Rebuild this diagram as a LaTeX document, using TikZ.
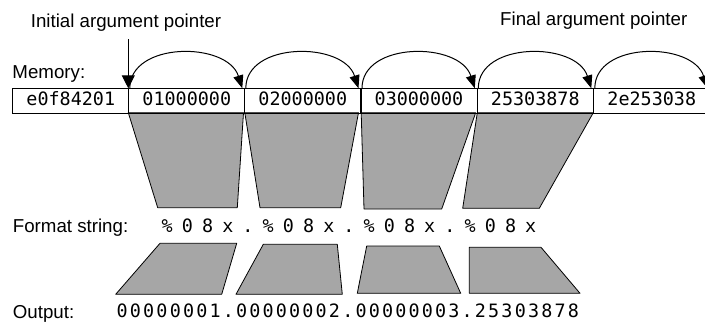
\documentclass[tikz,border=0pt]{standalone}
\usepackage{fontspec}
\setmainfont{Liberation Sans}
\newfontfamily\monofont{DejaVu Sans Mono}
\usetikzlibrary{arrows.meta}
\definecolor{trapgray}{HTML}{A6A6A6}
\ExplSyntaxOn
\NewDocumentCommand\pitched{mm}{\tl_map_inline:nn {#2}{\makebox[#1]{##1}}}
\ExplSyntaxOff
\begin{document}
\begin{tikzpicture}[x=1pt,y=-1pt,
  lbl/.style={font=\fontsize{18.7}{20}\selectfont, inner sep=0pt, anchor=base west},
  mono/.style={font=\monofont\fontsize{18.4}{20}\selectfont, inner sep=0pt, anchor=base west},
  cell/.style={draw, line width=1pt, minimum width=116pt, minimum height=24.5pt, inner sep=0pt,
    text height=13.4pt, text depth=4pt, anchor=north west,
    font=\monofont\fontsize{18.4}{20}\selectfont},
  trap/.style={draw, line width=0.8pt, fill=trapgray, line join=round},
  ptr/.style={line width=1pt, -{Triangle[length=13pt,width=10pt]}},
  initptr/.style={line width=1pt, -{Triangle[length=13pt,width=13pt]}},
]
\clip (0,0) rectangle (705,322);
\fill[white] (0,0) rectangle (705,322);

% labels
\node[lbl] (lInit) at (30.7,27) {Initial argument pointer};
\node[lbl] (lFinal) at (500,25) {Final argument pointer};
\node[lbl] (lMem) at (12.3,78) {Memory:};
\node[lbl] (lFmt) at (12.7,232.5) {Format string:};
\node[lbl] (lOut) at (12.7,318) {Output:};

% trapezoids memory -> format
\draw[trap] (128.3,112.7) -- (243.5,112.7) -- (237.3,207.7) -- (157.7,207.7) -- cycle;
\draw[trap] (244.8,112.7) -- (358.5,112.7) -- (340.7,207.7) -- (260,207.7) -- cycle;
\draw[trap] (361.2,112.7) -- (475.7,112.7) -- (441.7,209) -- (364,209) -- cycle;
\draw[trap] (477.3,112.7) -- (593.3,112.7) -- (539.3,208.3) -- (462.7,208.3) -- cycle;

% trapezoids format -> output
\draw[trap] (160,243.3) -- (236.7,243.3) -- (221.7,294.3) -- (115.7,294.3) -- cycle;
\draw[trap] (263.3,244.3) -- (337.3,244.3) -- (342.3,294.3) -- (236,294.3) -- cycle;
\draw[trap] (366.7,246) -- (439.3,246) -- (460.7,293.3) -- (357.3,293.3) -- cycle;
\draw[trap] (469.3,247.3) -- (541,247.3) -- (580,293.3) -- (469.3,293.3) -- cycle;

% memory cells
\node[cell] (m0) at (12.3,88.3) {e0f84201};
\node[cell] (m1) at (128.3,88.3) {01000000};
\node[cell] (m2) at (244.3,88.3) {02000000};
\node[cell] (m3) at (360.5,88.3) {03000000};
\node[cell] (m4) at (476.8,88.3) {25303878};
\node[cell] (m5) at (593.3,88.3) {2e253038};

% format string and output
\node[mono] (fmt) at (156.9,232.7) {\pitched{20.2pt}{\%08x.\%08x.\%08x.\%08x}};
\node[mono] (out) at (115.4,317.5) {\pitched{13.27pt}{00000001.00000002.00000003.25303878}};

% pointers
\coordinate (p0) at (128.3,39);
\draw[initptr] (p0) -- (m1.north west);
\draw[ptr] ([xshift=1.5pt]m1.north west) .. controls +(0,-47) and +(-15,-47) .. ([xshift=-2pt]m2.north west);
\draw[ptr] ([xshift=1.5pt]m2.north west) .. controls +(0,-47) and +(-15,-47) .. ([xshift=-2pt]m3.north west);
\draw[ptr] ([xshift=1.5pt]m3.north west) .. controls +(0,-47) and +(-15,-47) .. ([xshift=-2pt]m4.north west);
\draw[ptr] ([xshift=1.5pt]m4.north west) .. controls +(0,-47) and +(-15,-47) .. ([xshift=-2pt]m5.north west);
\coordinate (pend) at (707.5,88.3);
\draw[ptr] ([xshift=1.5pt]m5.north west) .. controls +(0,-47) and +(-15,-47) .. (pend);
\end{tikzpicture}
\end{document}
